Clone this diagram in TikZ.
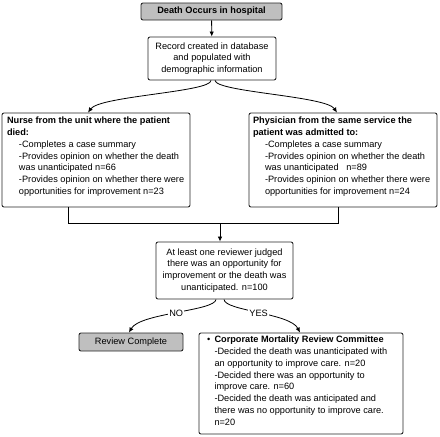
\documentclass[tikz,border=0pt]{standalone}
\usepackage{fontspec}
\setmainfont{Liberation Sans}
\usetikzlibrary{arrows.meta}
\newcommand{\tbox}[3]{\vbox to #2{\hsize=#1\relax\baselineskip=11.8pt\relax #3\vss}}
\newcommand{\tline}[2]{\hbox to\hsize{\hskip #1\relax #2\hss}}
\begin{document}
\begin{tikzpicture}[x=1pt,y=-1pt,
  font=\fontsize{9.2}{11.8}\selectfont,
  box/.style={draw=black!85, line width=0.9pt, rounded corners=2pt, fill=white, inner sep=0pt},
  greybox/.style={box, fill=black!25},
  conn/.style={line width=0.8pt, draw=black},
  arr/.style={conn, -{Latex[length=5pt,width=4.5pt]}},
  lbl/.style={fill=white, inner sep=1pt}]
\useasboundingbox (0,0) rectangle (440,437);

\node[greybox, minimum width=141pt, minimum height=17pt] (death) at (211.5,11.5) {\textbf{Death Occurs in hospital}};

\node[box, minimum width=128pt, minimum height=43pt, align=center] (record) at (212,58.5)
  {Record created in database\\and populated with\\demographic information};

\node[box, inner xsep=5pt, inner ysep=4pt] (nurse) at (96,160) {\tbox{178pt}{86pt}{%
  \tline{0pt}{\textbf{Nurse from the unit where the patient}}
  \tline{0pt}{\textbf{died:}}
  \tline{12pt}{-Completes a case summary}
  \tline{12pt}{-Provides opinion on whether the death}
  \tline{12pt}{was unanticipated n=66}
  \tline{12pt}{-Provides opinion on whether there were}
  \tline{12pt}{opportunities for improvement n=23}}};

\node[box, inner xsep=4pt, inner ysep=4pt] (phys) at (343,160) {\tbox{180pt}{86pt}{%
  \tline{0pt}{\textbf{Physician from the same service the}}
  \tline{0pt}{\textbf{patient was admitted to:}}
  \tline{12pt}{-Completes a case summary}
  \tline{12pt}{-Provides opinion on whether the death}
  \tline{12pt}{was unanticipated\ \ \ n=89}
  \tline{12pt}{-Provides opinion on whether there were}
  \tline{12pt}{opportunities for improvement n=24}}};

\node[box, minimum width=137pt, minimum height=57pt, align=center] (least) at (224.5,270.5)
  {At least one reviewer judged\\there was an opportunity for\\improvement or the death was\\unanticipated. n=100};

\node[greybox, minimum width=104pt, minimum height=18pt] (done) at (131,342) {Review Complete};

\node[box, inner xsep=8pt, inner ysep=3pt] (corp) at (301,383.5) {\tbox{188pt}{95pt}{%
  \tline{0pt}{\makebox[7.5pt][l]{•}\textbf{Corporate Mortality Review Committee}}
  \tline{7.5pt}{-Decided the death was unanticipated with}
  \tline{7.5pt}{an opportunity to improve care. n=20}
  \tline{7.5pt}{-Decided there was an opportunity to}
  \tline{7.5pt}{improve care. n=60}
  \tline{7.5pt}{-Decided the death was anticipated and}
  \tline{7.5pt}{there was no opportunity to improve care.}
  \tline{7.5pt}{n=20}}};

\coordinate (j) at (220,223);

\draw[arr] (death) -- (record);
\draw[arr] ([xshift=-1pt]record.south) .. controls (211,92) and (100,96) .. ([xshift=-8pt]nurse.north);
\draw[arr] ([xshift=3pt]record.south) .. controls (216,92) and (326,96) .. ([xshift=-6pt]phys.north);
\draw[conn] ([xshift=-28pt]nurse.south) |- (j);
\draw[conn] ([xshift=-5pt]phys.south) |- (j);
\draw[arr] (j) -- (j |- least.north);
\draw[arr] ([xshift=-8.5pt]least.south) .. controls (215,311) and (140,313) .. ([xshift=-2pt]done.north)
  node[lbl, pos=0.5] {NO};
\draw[arr] ([xshift=-0.5pt]least.south) .. controls (225,311) and (290,313) .. ([xshift=-1pt]corp.north)
  node[lbl, pos=0.5] {YES};
\end{tikzpicture}
\end{document}
